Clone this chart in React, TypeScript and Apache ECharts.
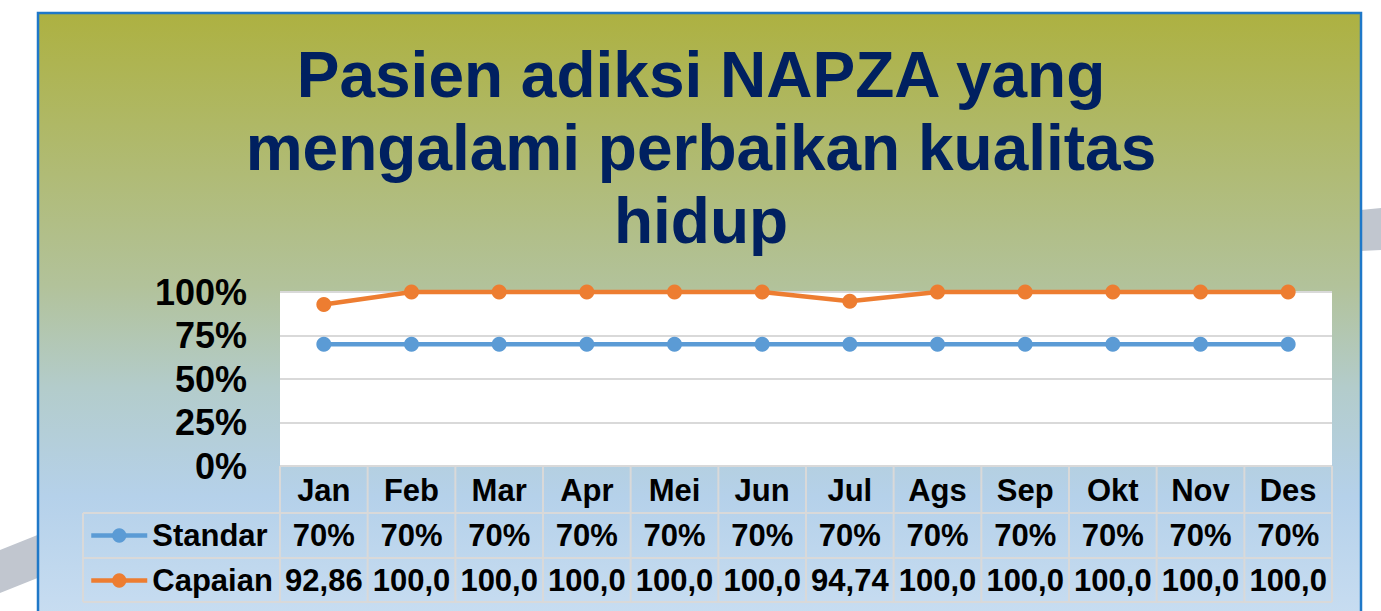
import React, { useEffect, useRef } from "react";
import * as echarts from "echarts";

const months = ["Jan", "Feb", "Mar", "Apr", "Mei", "Jun", "Jul", "Ags", "Sep", "Okt", "Nov", "Des"];
const standar = [70, 70, 70, 70, 70, 70, 70, 70, 70, 70, 70, 70];
const capaian = [92.86, 100, 100, 100, 100, 100, 94.74, 100, 100, 100, 100, 100];
const yTicks = [0, 25, 50, 75, 100];
const titleText = "Pasien adiksi NAPZA yang\nmengalami perbaikan kualitas\nhidup";

const FONT = 'Arial, "Liberation Sans", Helvetica, sans-serif';

const fmtStandar = (v: number) => `${v}%`;
const fmtCapaian = (v: number) => v.toFixed(2).replace(".", ",").slice(0, 5);

export default function App() {
  const ref = useRef<HTMLDivElement>(null);

  useEffect(() => {
    if (!ref.current) return;
    const chart = echarts.init(ref.current, undefined, { renderer: "svg" });

    const gridLeft = 280;
    const gridTop = 292;
    const gridRight = 1332;
    const gridBottom = 466;
    const plotW = gridRight - gridLeft;
    const colW = plotW / months.length;
    const row1 = 513;
    const row2 = 558;
    const row3 = 602;
    const legendLeft = 83;
    const lineColor = "#D9D9D9";

    const tableLines: any[] = [];
    [row1, row2, row3].forEach((y) => {
      tableLines.push({
        type: "line",
        z: 10,
        shape: { x1: legendLeft, y1: y, x2: gridRight, y2: y },
        style: { stroke: lineColor, lineWidth: 2 },
      });
    });
    tableLines.push({
      type: "line",
      z: 10,
      shape: { x1: gridLeft, y1: gridBottom, x2: gridRight, y2: gridBottom },
      style: { stroke: lineColor, lineWidth: 2 },
    });
    tableLines.push({
      type: "line",
      z: 10,
      shape: { x1: legendLeft, y1: row1, x2: legendLeft, y2: row3 },
      style: { stroke: lineColor, lineWidth: 2 },
    });
    for (let k = 0; k <= months.length; k++) {
      const x = gridLeft + k * colW;
      tableLines.push({
        type: "line",
        z: 10,
        shape: { x1: x, y1: gridBottom, x2: x, y2: row3 },
        style: { stroke: lineColor, lineWidth: 2 },
      });
    }

    const rowAxis = (labels: string[], offset: number) => ({
      type: "category",
      gridIndex: 0,
      position: "bottom",
      offset,
      data: labels,
      axisLine: { show: false },
      axisTick: { show: false },
      splitLine: { show: false },
      axisLabel: {
        interval: 0,
        margin: 0,
        color: "#000",
        fontFamily: FONT,
        fontWeight: "bold",
        fontSize: 31,
        lineHeight: 45,
      },
    });

    chart.setOption({
      animation: false,
      title: {
        text: titleText,
        left: 696,
        top: 33,
        textAlign: "center",
        textStyle: {
          fontFamily: FONT,
          fontWeight: "bold",
          fontSize: 64,
          lineHeight: 73,
          color: "#002060",
        },
      },
      graphic: [
        {
          type: "polygon",
          z: -10,
          shape: { points: [[0, 550], [60, 526], [60, 569], [0, 593]] },
          style: { fill: "#C1C6CF" },
        },
        {
          type: "polygon",
          z: -10,
          shape: { points: [[1340, 212], [1381, 208], [1381, 250], [1340, 252]] },
          style: { fill: "#C1C6CF" },
        },
        {
          type: "rect",
          z: -9,
          shape: { x: 38, y: 13, width: 1323, height: 605 },
          style: {
            fill: {
              type: "linear",
              x: 0,
              y: 0,
              x2: 0,
              y2: 1,
              colorStops: [
                { offset: 0, color: "#ADB141" },
                { offset: 0.45, color: "#B2C29A" },
                { offset: 0.62, color: "#B3CCCB" },
                { offset: 0.8, color: "#B5D1EA" },
                { offset: 1, color: "#C8DDF1" },
              ],
            },
            stroke: "#1F78C8",
            lineWidth: 2.5,
          },
        },
        ...tableLines,
      ],
      legend: {
        data: ["Standar", "Capaian"],
        orient: "vertical",
        left: 89,
        top: row1,
        itemGap: 0,
        itemWidth: 56,
        itemHeight: 18,
        padding: 0,
        lineStyle: { width: 4.5 },
        textStyle: {
          color: "#000",
          fontFamily: FONT,
          fontWeight: "bold",
          fontSize: 31,
          lineHeight: 45,
        },
      },
      grid: {
        left: gridLeft,
        top: gridTop,
        width: plotW,
        height: gridBottom - gridTop,
        show: true,
        backgroundColor: "#FFFFFF",
        borderWidth: 0,
      },
      xAxis: [
        {
          type: "category",
          data: months,
          axisLine: { show: false },
          axisTick: { show: false },
          splitLine: { show: false },
          axisLabel: {
            interval: 0,
            margin: 0,
            color: "#000",
            fontFamily: FONT,
            fontWeight: "bold",
            fontSize: 31,
            lineHeight: 48,
          },
        },
        rowAxis(standar.map(fmtStandar), 47),
        rowAxis(capaian.map(fmtCapaian), 92),
      ],
      yAxis: {
        type: "value",
        min: yTicks[0],
        max: yTicks[yTicks.length - 1],
        interval: yTicks[1] - yTicks[0],
        axisLine: { show: false },
        axisTick: { show: false },
        splitLine: { show: true, lineStyle: { color: lineColor, width: 2 } },
        axisLabel: {
          formatter: "{value}%",
          margin: 33,
          color: "#000",
          fontFamily: FONT,
          fontWeight: "bold",
          fontSize: 36,
        },
      },
      series: [
        {
          name: "Standar",
          type: "line",
          data: standar,
          symbol: "circle",
          symbolSize: 15,
          clip: false,
          color: "#5B9BD5",
          lineStyle: { width: 4.5, color: "#5B9BD5" },
          itemStyle: { color: "#5B9BD5" },
        },
        {
          name: "Capaian",
          type: "line",
          data: capaian,
          symbol: "circle",
          symbolSize: 15,
          clip: false,
          color: "#ED7D31",
          lineStyle: { width: 4.5, color: "#ED7D31" },
          itemStyle: { color: "#ED7D31" },
        },
      ],
    });

    return () => chart.dispose();
  }, []);

  return (
    <div
      ref={ref}
      style={{ position: "fixed", left: 0, top: 0, width: 1381, height: 611, background: "#fff" }}
    />
  );
}
